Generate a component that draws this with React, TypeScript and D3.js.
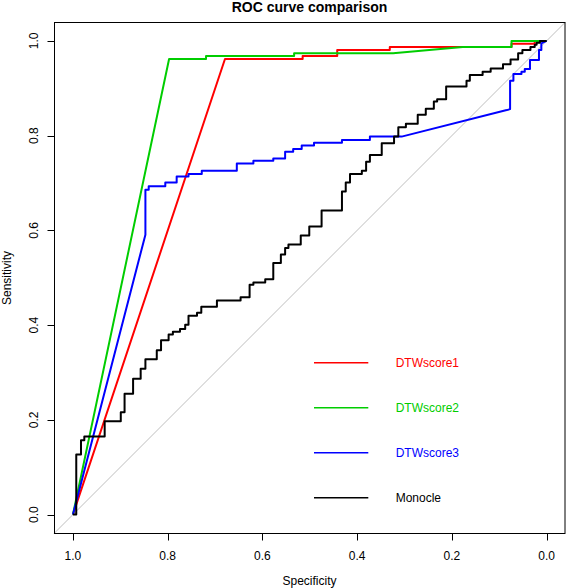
import React from "react";
import * as d3 from "d3";

// ROC data: [specificity, sensitivity]
const dtwScore1: [number, number][] = [
  [1.0, 0.0], [0.679, 0.962], [0.515, 0.962], [0.515, 0.968], [0.442, 0.968],
  [0.442, 0.981], [0.331, 0.981], [0.331, 0.987], [0.074, 0.987], [0.074, 0.994],
  [0.025, 0.994], [0.025, 1.0], [0.0, 1.0],
];

const dtwScore2: [number, number][] = [
  [1.0, 0.0], [0.797, 0.962], [0.719, 0.962], [0.719, 0.968], [0.533, 0.968],
  [0.533, 0.974], [0.324, 0.974], [0.177, 0.987], [0.074, 0.987], [0.074, 1.0],
  [0.0, 1.0],
];

const dtwScore3: [number, number][] = [
  [1.0, 0.0], [0.847, 0.591], [0.847, 0.686], [0.840, 0.686], [0.840, 0.693],
  [0.805, 0.693], [0.805, 0.701], [0.781, 0.701], [0.781, 0.714], [0.756, 0.714],
  [0.756, 0.719], [0.728, 0.719], [0.728, 0.726], [0.654, 0.726], [0.654, 0.741],
  [0.619, 0.741], [0.619, 0.747], [0.577, 0.747], [0.577, 0.752], [0.552, 0.752],
  [0.552, 0.766], [0.535, 0.766], [0.535, 0.772], [0.517, 0.772], [0.517, 0.779],
  [0.491, 0.779], [0.491, 0.785], [0.432, 0.785], [0.432, 0.791], [0.373, 0.791],
  [0.373, 0.798], [0.306, 0.798], [0.084, 0.854], [0.077, 0.856], [0.077, 0.916],
  [0.070, 0.916], [0.070, 0.930], [0.053, 0.930], [0.053, 0.935], [0.046, 0.935],
  [0.046, 0.941], [0.035, 0.941], [0.035, 0.960], [0.016, 0.960], [0.016, 0.981],
  [0.011, 0.981], [0.011, 0.995], [0.0, 1.0],
];

// Monocle: step curve (horizontal then vertical), one point per step
const monocle: [number, number][] = [
  [1.0, 0.0], [0.993, 0.127], [0.983, 0.157], [0.976, 0.165], [0.933, 0.197],
  [0.899, 0.216], [0.891, 0.255], [0.873, 0.287], [0.857, 0.308], [0.847, 0.328],
  [0.823, 0.347], [0.814, 0.368], [0.798, 0.380], [0.789, 0.386], [0.774, 0.392],
  [0.763, 0.401], [0.756, 0.420], [0.738, 0.426], [0.729, 0.439], [0.696, 0.452],
  [0.646, 0.459], [0.627, 0.485], [0.619, 0.490], [0.594, 0.497], [0.577, 0.531],
  [0.561, 0.549], [0.552, 0.563], [0.545, 0.570], [0.519, 0.589], [0.501, 0.608],
  [0.475, 0.642], [0.432, 0.682], [0.424, 0.701], [0.415, 0.719], [0.390, 0.726],
  [0.381, 0.745], [0.373, 0.759], [0.348, 0.784], [0.322, 0.798], [0.313, 0.818],
  [0.297, 0.825], [0.272, 0.844], [0.255, 0.857], [0.238, 0.872], [0.231, 0.877],
  [0.212, 0.904], [0.169, 0.916], [0.162, 0.928], [0.135, 0.935], [0.118, 0.942],
  [0.092, 0.951], [0.076, 0.961], [0.060, 0.974], [0.051, 0.981], [0.034, 0.987],
  [0.025, 0.992], [0.021, 0.996], [0.014, 1.0], [0.0, 1.0],
];

const tickValues = [1.0, 0.8, 0.6, 0.4, 0.2, 0.0];
const legendLabels = ["DTWscore1", "DTWscore2", "DTWscore3", "Monocle"];
const legendColors = ["#FF0000", "#00CD00", "#0000FF", "#000000"];

const W = 566;
const H = 588;
const FONT = "'Liberation Sans', Arial, Helvetica, sans-serif";

export default function App() {
  const x = d3.scaleLinear().domain([1.04, -0.04]).range([54, 565.5]);
  const y = d3.scaleLinear().domain([-0.04, 1.04]).range([533.5, 22]);

  const lineLinear = d3
    .line<[number, number]>()
    .x((d) => x(d[0]))
    .y((d) => y(d[1]));
  const lineStep = d3
    .line<[number, number]>()
    .x((d) => x(d[0]))
    .y((d) => y(d[1]))
    .curve(d3.curveStepAfter);

  const series = [
    { data: dtwScore1, color: legendColors[0], gen: lineLinear },
    { data: dtwScore2, color: legendColors[1], gen: lineLinear },
    { data: dtwScore3, color: legendColors[2], gen: lineLinear },
    { data: monocle, color: legendColors[3], gen: lineStep },
  ];

  const [dx0, dx1] = x.domain();
  const diag: [number, number][] = [
    [dx0, 1 - dx0],
    [dx1, 1 - dx1],
  ];

  const left = 54.5;
  const right = 565;
  const top = 22.5;
  const bottom = 533.5;

  const legendY0 = 362.7;
  const legendStep = 45;

  return (
    <svg
      width={W}
      height={H}
      style={{ position: "absolute", left: 0, top: 0, background: "#fff" }}
      fontFamily={FONT}
    >
      <rect x={0} y={0} width={W} height={H} fill="#fff" />
      <text x={309.5} y={12} textAnchor="middle" fontSize={14} fontWeight="bold">
        ROC curve comparison
      </text>

      {/* diagonal reference */}
      <path d={lineLinear(diag) || ""} stroke="#BEBEBE" strokeWidth={1} fill="none" />

      {series.map((s, i) => (
        <path
          key={i}
          d={s.gen(s.data) || ""}
          stroke={s.color}
          strokeWidth={2}
          fill="none"
          strokeLinejoin="round"
        />
      ))}

      {/* box */}
      <rect
        x={left}
        y={top}
        width={right - left}
        height={bottom - top}
        fill="none"
        stroke="#000"
        strokeWidth={1}
      />

      {/* x axis */}
      {tickValues.map((t) => (
        <g key={"x" + t}>
          <line
            x1={Math.round(x(t)) + 0.5}
            x2={Math.round(x(t)) + 0.5}
            y1={bottom}
            y2={bottom + 7}
            stroke="#000"
          />
          <text x={x(t)} y={560} textAnchor="middle" fontSize={12}>
            {t.toFixed(1)}
          </text>
        </g>
      ))}
      {/* y axis */}
      {tickValues.map((t) => (
        <g key={"y" + t}>
          <line
            x1={left - 7}
            x2={left}
            y1={Math.round(y(t)) + 0.5}
            y2={Math.round(y(t)) + 0.5}
            stroke="#000"
          />
          <text
            transform={`translate(37.5,${y(t)}) rotate(-90)`}
            textAnchor="middle"
            fontSize={12}
          >
            {t.toFixed(1)}
          </text>
        </g>
      ))}

      <text x={309.5} y={585} textAnchor="middle" fontSize={12}>
        Specificity
      </text>
      <text transform={`translate(11,278) rotate(-90)`} textAnchor="middle" fontSize={12}>
        Sensitivity
      </text>

      {/* legend */}
      {legendLabels.map((lab, i) => {
        const ly = legendY0 + i * legendStep;
        return (
          <g key={lab}>
            <line x1={314} x2={368.3} y1={ly} y2={ly} stroke={legendColors[i]} strokeWidth={1.5} />
            <text x={395.7} y={ly + 4.3} fontSize={12} fill={legendColors[i]}>
              {lab}
            </text>
          </g>
        );
      })}
    </svg>
  );
}
